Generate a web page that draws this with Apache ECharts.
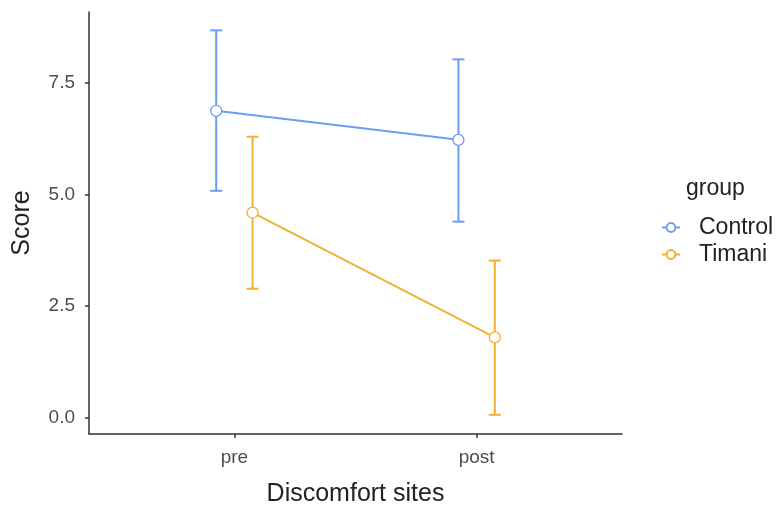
<!DOCTYPE html>
<html><head><meta charset="utf-8">
<script src="https://cdn.jsdelivr.net/npm/echarts@6/dist/echarts.min.js"></script>
<style>html,body{margin:0;padding:0;background:#fff}#c{width:779px;height:506px}</style>
</head><body><div id="c"></div>
<script>
const categories = ['pre', 'post'];
const groups = ['Control', 'Timani'];
const controlMean = [6.87, 6.22];
const controlLow = [5.08, 4.39];
const controlHigh = [8.67, 8.02];
const timaniMean = [4.59, 1.80];
const timaniLow = [2.89, 0.07];
const timaniHigh = [6.29, 3.52];
const yTicks = [0, 2.5, 5, 7.5];

const colors = ['#6C9DF4', '#F2B133'];
const dodge = [-0.075, 0.075];
const font = 'Liberation Sans, Arial, Helvetica, sans-serif';

const groupData = [
  {mean: controlMean, low: controlLow, high: controlHigh},
  {mean: timaniMean, low: timaniLow, high: timaniHigh}
];

const series = [];
groupData.forEach((g, gi) => {
  const xs = categories.map((c, i) => i + 1 + dodge[gi]);
  series.push({
    type: 'line',
    name: groups[gi],
    z: 3,
    data: xs.map((x, i) => [x, g.mean[i]]),
    symbol: 'circle',
    symbolSize: 11,
    itemStyle: {color: '#fff', borderColor: colors[gi], borderWidth: 1.3},
    lineStyle: {color: colors[gi], width: 2},
    color: colors[gi]
  });
  series.push({
    type: 'custom',
    name: groups[gi] + ' error',
    z: 2,
    data: xs.map((x, i) => [x, g.low[i], g.high[i]]),
    renderItem: function (params, api) {
      const x = api.value(0);
      const lo = api.coord([x, api.value(1)]);
      const hi = api.coord([x, api.value(2)]);
      const hw = 6;
      const st = {stroke: colors[gi], lineWidth: 2};
      return {type: 'group', children: [
        {type: 'line', shape: {x1: lo[0], y1: lo[1], x2: hi[0], y2: hi[1]}, style: st},
        {type: 'line', shape: {x1: lo[0]-hw, y1: lo[1], x2: lo[0]+hw, y2: lo[1]}, style: st},
        {type: 'line', shape: {x1: hi[0]-hw, y1: hi[1], x2: hi[0]+hw, y2: hi[1]}, style: st}
      ]};
    },
    silent: true
  });
});

const chart = echarts.init(document.getElementById('c'), null, {renderer: 'canvas'});
chart.setOption({
  animation: false,
  backgroundColor: '#fff',
  textStyle: {fontFamily: font},
  grid: {left: 89, right: 157, top: 12, bottom: 72, containLabel: false, outerBoundsMode: 'none'},
  xAxis: {
    type: 'value', min: 0.4, max: 2.6,
    name: 'Discomfort sites', nameLocation: 'middle', nameGap: 48,
    nameTextStyle: {fontSize: 25, color: '#222', fontFamily: font},
    splitLine: {show: false},
    axisLine: {show: true, onZero: false, lineStyle: {color: '#333', width: 1.5}},
    axisTick: {show: true, length: 4, customValues: [1, 2], lineStyle: {color: '#333', width: 1.5}},
    axisLabel: {customValues: [1, 2], margin: 14, fontSize: 19, color: '#4D4D4D', fontFamily: font,
      formatter: v => categories[Math.round(v) - 1] || ''}
  },
  yAxis: {
    type: 'value', min: -0.36, max: 9.08,
    name: 'Score', nameLocation: 'middle', nameGap: 54, nameRotate: 90,
    nameTextStyle: {fontSize: 25, color: '#222', fontFamily: font},
    splitLine: {show: false},
    axisLine: {show: true, onZero: false, lineStyle: {color: '#333', width: 1.5}},
    axisTick: {show: true, length: 4, customValues: yTicks, lineStyle: {color: '#333', width: 1.5}},
    axisLabel: {customValues: yTicks, margin: 14, fontSize: 19, color: '#4D4D4D', fontFamily: font,
      formatter: v => v.toFixed(1)}
  },
  legend: {
    data: groups,
    orient: 'vertical', left: 656, top: 211,
    itemWidth: 18, itemHeight: 11, itemGap: 4,
    textStyle: {fontSize: 23, color: '#222', fontFamily: font, padding: [0, 0, 0, 14]},
    selectedMode: false
  },
  graphic: [{type: 'text', left: 686, top: 177, style: {text: 'group', fontSize: 23, fill: '#222', fontFamily: font}}],
  series: series
});
</script></body></html>
